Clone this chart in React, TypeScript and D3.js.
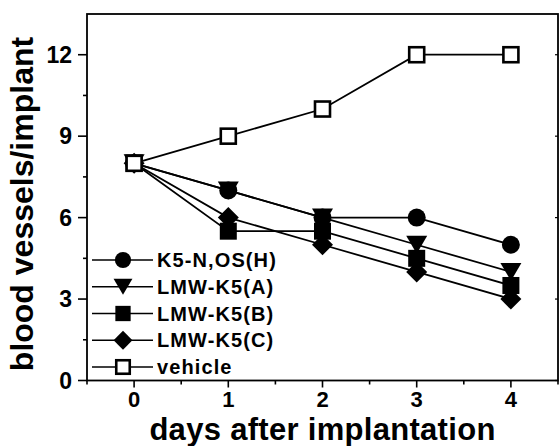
import { useEffect, useRef } from 'react';
import * as d3 from 'd3';

const days = [0, 1, 2, 3, 4];
const k5nos = [8, 7, 6, 6, 5];
const lmwA = [8, 7, 6, 5, 4];
const lmwB = [8, 5.5, 5.5, 4.5, 3.5];
const lmwC = [8, 6, 5, 4, 3];
const vehicle = [8, 9, 10, 12, 12];

const seriesNames = ['K5-N,OS(H)', 'LMW-K5(A)', 'LMW-K5(B)', 'LMW-K5(C)', 'vehicle'];
const seriesValues = [k5nos, lmwA, lmwB, lmwC, vehicle];
const seriesSymbols = ['circle', 'triangleDown', 'square', 'diamond', 'openSquare'];

const yTicks = [0, 3, 6, 9, 12];
const xTicks = [0, 1, 2, 3, 4];

const W = 560;
const H = 446;
const FONT = "'Liberation Sans', Arial, sans-serif";

// draws one symbol centred on (cx, cy)
function drawSymbol(g: any, kind: string, cx: number, cy: number, k = 1) {
  if (kind === 'circle') {
    g.append('circle').attr('cx', cx).attr('cy', cy).attr('r', 9 * k).attr('fill', '#000');
  } else if (kind === 'triangleDown') {
    const w = 10.5 * k, h = 9 * k;
    g.append('path')
      .attr('d', `M${cx - w},${cy - h} L${cx + w},${cy - h} L${cx},${cy + h} Z`)
      .attr('fill', '#000');
  } else if (kind === 'square') {
    const s = 8.5 * k;
    g.append('rect').attr('x', cx - s).attr('y', cy - s).attr('width', 2 * s).attr('height', 2 * s).attr('fill', '#000');
  } else if (kind === 'diamond') {
    const s = 10.5 * k;
    g.append('path')
      .attr('d', `M${cx},${cy - s} L${cx + s},${cy} L${cx},${cy + s} L${cx - s},${cy} Z`)
      .attr('fill', '#000');
  } else {
    const s = 7.5 * k;
    g.append('rect').attr('x', cx - s).attr('y', cy - s).attr('width', 2 * s).attr('height', 2 * s)
      .attr('fill', '#fff').attr('stroke', '#000').attr('stroke-width', 2.6);
  }
}

export default function App() {
  const ref = useRef<SVGSVGElement>(null);

  useEffect(() => {
    if (!ref.current) return;
    const svg = d3.select(ref.current);
    svg.selectAll('*').remove();

    const left = 87, right = 558, top = 14, bottom = 380.5;
    const x = d3.scaleLinear().domain([-0.5, 4.5]).range([left, right]);
    const y = d3.scaleLinear().domain([0, 13.5]).range([bottom, top]);

    // frame
    svg.append('rect')
      .attr('x', left).attr('y', top).attr('width', right - left).attr('height', bottom - top)
      .attr('fill', 'none').attr('stroke', '#000').attr('stroke-width', 1.8);

    // y ticks
    d3.range(0, 13.5, 1.5).forEach((v) => {
      const major = v % 3 === 0;
      svg.append('line')
        .attr('x1', left - (major ? 9 : 4)).attr('x2', left)
        .attr('y1', y(v)).attr('y2', y(v))
        .attr('stroke', '#000').attr('stroke-width', 1.6);
    });
    yTicks.forEach((v) => {
      svg.append('line')
        .attr('x1', right - 3).attr('x2', right)
        .attr('y1', y(v)).attr('y2', y(v))
        .attr('stroke', '#000').attr('stroke-width', 1.2);
      svg.append('text')
        .attr('x', 72).attr('y', y(v) + 8)
        .attr('text-anchor', 'end')
        .attr('font-family', FONT).attr('font-weight', 'bold').attr('font-size', 23)
        .text(v);
    });

    // x ticks
    d3.range(-0.5, 4.51, 0.5).forEach((v) => {
      const major = Math.abs(v - Math.round(v)) < 1e-6;
      svg.append('line')
        .attr('x1', x(v)).attr('x2', x(v))
        .attr('y1', bottom).attr('y2', bottom + (major ? 7 : 4))
        .attr('stroke', '#000').attr('stroke-width', 1.6);
    });
    xTicks.forEach((v) => {
      svg.append('text')
        .attr('x', x(v)).attr('y', 407)
        .attr('text-anchor', 'middle')
        .attr('font-family', FONT).attr('font-weight', 'bold').attr('font-size', 22)
        .text(v);
    });

    // axis titles
    svg.append('text')
      .attr('x', (left + right) / 2).attr('y', 440)
      .attr('text-anchor', 'middle')
      .attr('font-family', FONT).attr('font-weight', 'bold').attr('font-size', 31)
      .attr('letter-spacing', 0.3)
      .text('days after implantation');
    svg.append('text')
      .attr('transform', `translate(33,204) rotate(-90)`)
      .attr('text-anchor', 'middle')
      .attr('font-family', FONT).attr('font-weight', 'bold').attr('font-size', 32)
      .text('blood vessels/implant');

    // lines
    const line = d3.line<number>().x((_, i) => x(days[i])).y((d) => y(d));
    seriesValues.forEach((vals) => {
      svg.append('path')
        .datum(vals)
        .attr('d', line)
        .attr('fill', 'none')
        .attr('stroke', '#000')
        .attr('stroke-width', 1.8);
    });

    // markers
    seriesValues.forEach((vals, s) => {
      const g = svg.append('g');
      vals.forEach((v, i) => drawSymbol(g, seriesSymbols[s], x(days[i]), y(v)));
    });

    // legend
    const legendY = d3.scaleLinear().domain([0, 4]).range([260, 367]);
    seriesNames.forEach((name, i) => {
      const cy = legendY(i);
      const g = svg.append('g');
      g.append('line')
        .attr('x1', 92).attr('x2', 153).attr('y1', cy).attr('y2', cy)
        .attr('stroke', '#000').attr('stroke-width', 1.6);
      drawSymbol(g, seriesSymbols[i], 123, cy, 0.9);
      g.append('text')
        .attr('x', 157).attr('y', cy + 7)
        .attr('font-family', FONT).attr('font-weight', 'bold').attr('font-size', 20)
        .attr('letter-spacing', 1.1)
        .text(name);
    });
  }, []);

  return (
    <svg
      ref={ref}
      width={W}
      height={H}
      style={{ position: 'absolute', left: 0, top: 0, background: '#fff' }}
    />
  );
}
